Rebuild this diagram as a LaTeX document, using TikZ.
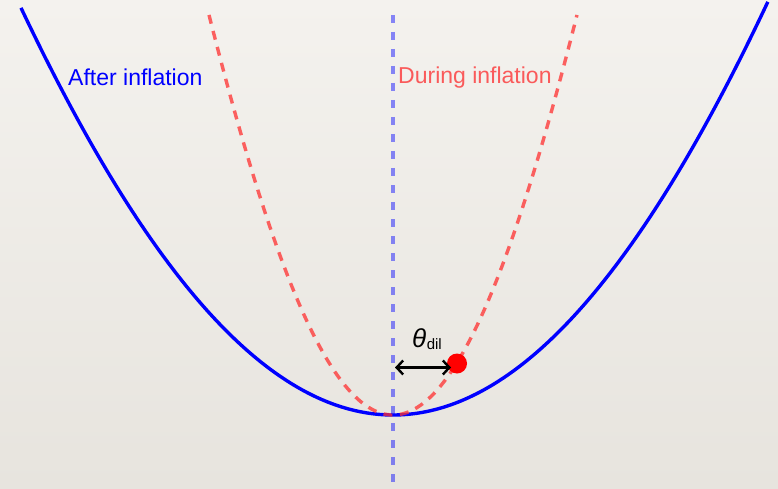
\documentclass[tikz,border=0pt]{standalone}
\usepackage{fontspec}
\setmainfont{Liberation Sans}
\usetikzlibrary{arrows.meta}
\definecolor{paperTop}{HTML}{F4F2EE}
\definecolor{paperBot}{HTML}{E7E4DE}
\definecolor{redline}{HTML}{FF3030}
\definecolor{redtext}{HTML}{FA5A5A}
\tikzset{
  aftercurve/.style={draw=blue, line width=3.4pt},
  duringcurve/.style={draw=redline, draw opacity=0.75, line width=3.4pt, dash pattern=on 9pt off 7.5pt},
  axisline/.style={draw=blue, draw opacity=0.45, line width=4pt, dash pattern=on 8pt off 9pt},
  lbl/.style={font=\fontsize{23}{27}\selectfont, inner sep=0pt, anchor=base west},
  ballstyle/.style={circle, fill=red, minimum size=20pt, inner sep=0pt},
  dilarrow/.style={draw=black, line width=2.4pt, {Straight Barb[length=6.5pt,width=14pt]}-{Straight Barb[length=6.5pt,width=14pt]}}
}
\begin{document}
\begin{tikzpicture}[x=1pt,y=1pt]
\useasboundingbox (0,0) rectangle (778,488);
\shade[top color=paperTop, bottom color=paperBot] (0,0) rectangle (778,488);
% after inflation (blue solid)
\draw[aftercurve] plot[domain=-3.72:3.75, samples=120, smooth] ({393+100*\x}, {73+30.5*\x*\x-0.078*\x*\x*\x*\x});
% during inflation (red dashed)
\draw[duringcurve] plot[domain=-1.84:1.84, samples=100, smooth] ({393+100*\x}, {73+129*\x*\x-3.2*\x*\x*\x*\x});
% vertical axis
\coordinate (axtop) at (393,473);
\coordinate (axbot) at (393,0);
\draw[axisline] (axtop) -- (axbot);
% labels
\node[lbl, text=blue] (after) at (68,402) {After inflation};
\node[lbl, text=redtext] (during) at (398,404) {During inflation};
% ball and arrow
\node[ballstyle] (ball) at (457,124.5) {};
\coordinate (arrL) at (395,120.5);
\coordinate (arrR) at (451,120.5);
\draw[dilarrow] (arrL) -- (arrR);
\node[lbl] (theta) at (412,141) {\fontsize{26}{30}\selectfont\itshape θ\kern0.5pt\raisebox{-2.5pt}{\upshape\fontsize{15}{15}\selectfont dil}};
\end{tikzpicture}
\end{document}
